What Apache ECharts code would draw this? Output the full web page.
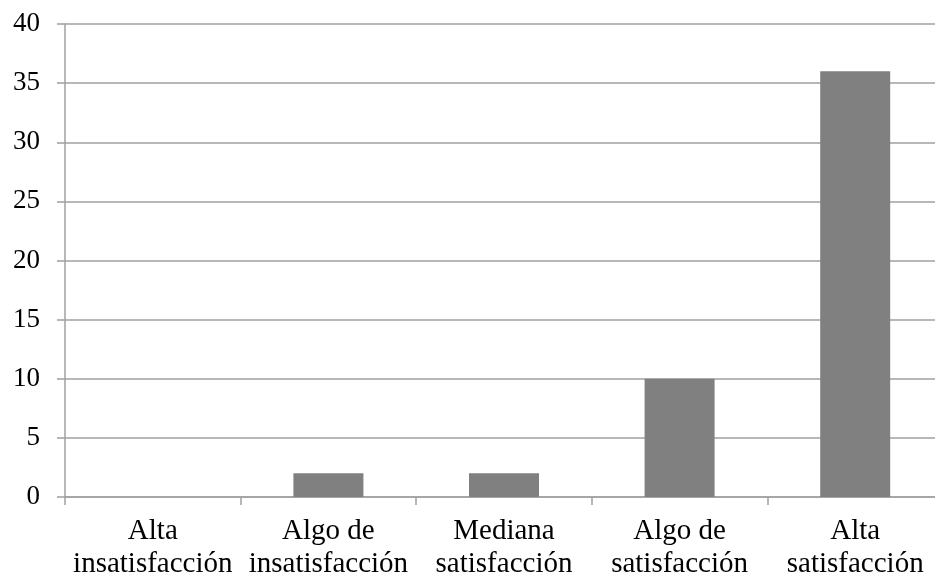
<!DOCTYPE html>
<html>
<head>
<meta charset="utf-8">
<script src="https://cdn.jsdelivr.net/npm/echarts@6/dist/echarts.min.js"></script>
<style>html,body{margin:0;padding:0;background:#fff;}#c{width:935px;height:578px;}</style>
</head>
<body>
<div id="c"></div>
<script>
var categories = ['Alta\ninsatisfacción', 'Algo de\ninsatisfacción', 'Mediana\nsatisfacción', 'Algo de\nsatisfacción', 'Alta\nsatisfacción'];
var values = [0, 2, 2, 10, 36];
var yTicks = [0, 5, 10, 15, 20, 25, 30, 35, 40];

var chart = echarts.init(document.getElementById('c'));
var gray = '#a0a0a0';
chart.setOption({
  animation: false,
  grid: {left: 65, right: -8, top: 24, bottom: 81, containLabel: false, outerBoundsMode: 'none'},
  xAxis: {
    type: 'category',
    data: categories,
    axisLine: {show: true, lineStyle: {color: gray, width: 1.5}},
    axisTick: {show: true, alignWithLabel: false, length: 8, lineStyle: {color: gray, width: 1.5}},
    axisLabel: {color: '#000', fontFamily: 'Liberation Serif', fontSize: 29, lineHeight: 33, margin: 18, interval: 0}
  },
  yAxis: {
    type: 'value',
    min: yTicks[0],
    max: yTicks[yTicks.length - 1],
    interval: 5,
    axisLine: {show: true, lineStyle: {color: gray, width: 1.5}},
    axisTick: {show: true, length: 8, lineStyle: {color: gray, width: 1.5}},
    splitLine: {show: true, lineStyle: {color: gray, width: 1.5}},
    axisLabel: {color: '#000', fontFamily: 'Liberation Serif', fontSize: 27, margin: 25}
  },
  series: [{
    type: 'bar',
    data: values,
    barWidth: 70,
    itemStyle: {color: '#808080'}
  }]
});
</script>
</body>
</html>
